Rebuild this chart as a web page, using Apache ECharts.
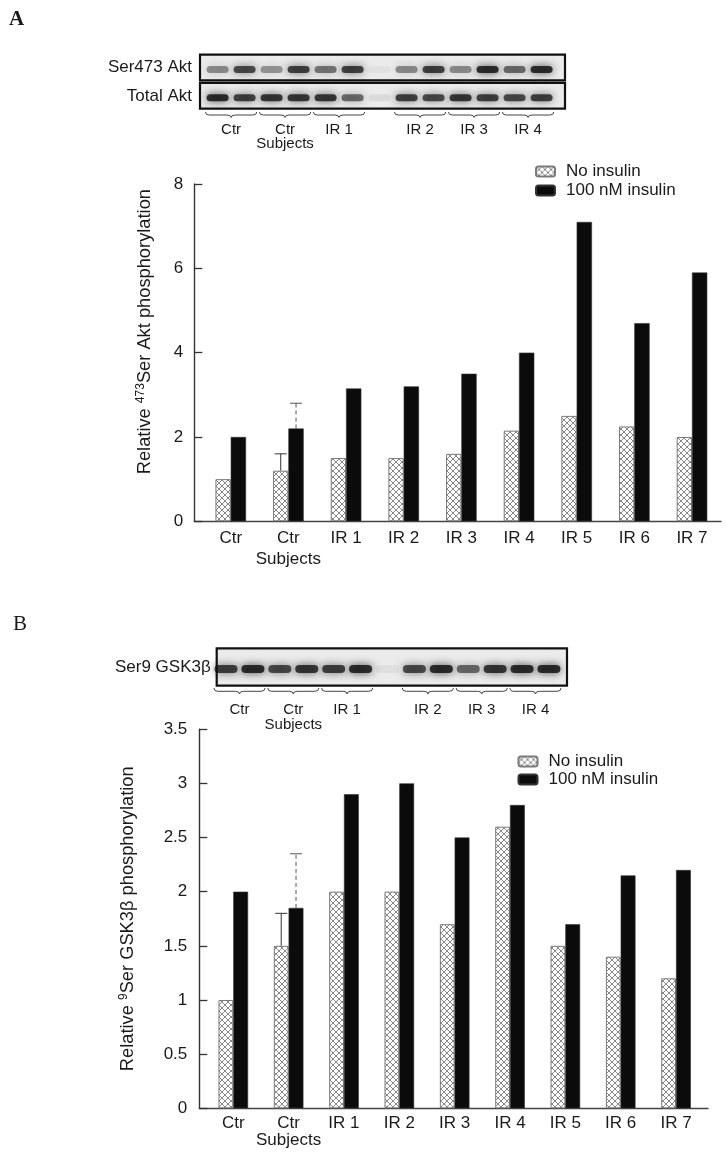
<!DOCTYPE html>
<html>
<head>
<meta charset="utf-8">
<script src="https://cdn.jsdelivr.net/npm/echarts@6/dist/echarts.min.js"></script>
<style>
html,body{margin:0;padding:0;background:#fff;}
#c{width:726px;height:1154px;}
</style>
</head>
<body>
<div id="c"></div>
<script>
// ---------- data ----------
const categories = ['Ctr', 'Ctr\nSubjects', 'IR 1', 'IR 2', 'IR 3', 'IR 4', 'IR 5', 'IR 6', 'IR 7'];
const seriesNames = ['No insulin', '100 nM insulin'];

const aktNoInsulin = [1.0, 1.2, 1.5, 1.5, 1.6, 2.15, 2.5, 2.25, 2.0];
const aktInsulin   = [2.0, 2.2, 3.15, 3.2, 3.5, 4.0, 7.1, 4.7, 5.9];
const aktErrors    = [[1, 0, 1.6], [1, 1, 2.8]];          // [category, series, top]
const aktTicks     = {min: 0, max: 8, step: 2};

const gskNoInsulin = [1.0, 1.5, 2.0, 2.0, 1.7, 2.6, 1.5, 1.4, 1.2];
const gskInsulin   = [2.0, 1.85, 2.9, 3.0, 2.5, 2.8, 1.7, 2.15, 2.2];
const gskErrors    = [[1, 0, 1.8], [1, 1, 2.35]];
const gskTicks     = {min: 0, max: 3.5, step: 0.5};

// western blot: lane band intensities (13 lanes, lane 6 empty)
const blotRowsA = ['Ser473 Akt', 'Total Akt'];
const aktPhosBands  = [0.45, 0.75, 0.40, 0.80, 0.55, 0.80, 0.05, 0.45, 0.80, 0.45, 0.90, 0.60, 0.90];
const aktTotalBands = [0.90, 0.80, 0.85, 0.85, 0.85, 0.60, 0.08, 0.80, 0.75, 0.85, 0.80, 0.75, 0.80];
const blotRowsB = ['Ser9 GSK3\u03b2'];
const gskPhosBands  = [0.80, 0.90, 0.75, 0.85, 0.80, 0.90, 0.06, 0.75, 0.90, 0.60, 0.85, 0.90, 0.90];
const blotGroupLabels = ['Ctr', 'Ctr\nSubjects', 'IR 1', 'IR 2', 'IR 3', 'IR 4'];
const blotGroupLanes  = [[0, 1], [2, 3], [4, 5], [7, 8], [9, 10], [11, 12]];

// ---------- styles ----------
const FONT = 'Liberation Sans, Arial, sans-serif';
const TXT = '#1a1a1a';

function hatchCanvas() {
  const c = document.createElement('canvas');
  c.width = 6; c.height = 6;
  const g = c.getContext('2d');
  g.fillStyle = '#ffffff'; g.fillRect(0, 0, 6, 6);
  g.strokeStyle = '#6a6a6a'; g.lineWidth = 0.8;
  g.beginPath();
  g.moveTo(0, 0); g.lineTo(6, 6);
  g.moveTo(6, 0); g.lineTo(0, 6);
  g.stroke();
  return c;
}
const hatch = {image: hatchCanvas(), repeat: 'repeat'};

const chart = echarts.init(document.getElementById('c'), null, {renderer: 'canvas'});

function bandData(arr, row) { return arr.map((v, i) => [i, row, v]); }

function errorSeries(name, xi, yi, errs, lowArrays, bw) {
  return {
    type: 'custom', name: name, xAxisIndex: xi, yAxisIndex: yi, z: 5,
    data: errs,
    encode: {x: 0, y: 2},
    renderItem: function (params, api) {
      const cat = api.value(0), si = api.value(1), top = api.value(2);
      const base = lowArrays[si][cat];
      const p0 = api.coord([cat, base]);
      const p1 = api.coord([cat, top]);
      const x = p0[0] + (si === 0 ? -bw / 2 : bw / 2);
      const st = si === 0
        ? {stroke: '#333', lineWidth: 1}
        : {stroke: '#555', lineWidth: 1, lineDash: [4, 3]};
      return {type: 'group', children: [
        {type: 'line', shape: {x1: x, y1: p0[1], x2: x, y2: p1[1]}, style: st},
        {type: 'line', shape: {x1: x - 6, y1: p1[1], x2: x + 6, y2: p1[1]}, style: {stroke: st.stroke, lineWidth: 1}}
      ]};
    }
  };
}

function boxSeries(xi, yi, rows) {
  return {
    type: 'custom', xAxisIndex: xi, yAxisIndex: yi, z: 1, silent: true,
    data: rows.map((r, i) => [0, i]),
    encode: {x: 0, y: 1},
    renderItem: function (params, api) {
      const cs = params.coordSys;
      const p = api.coord([0, api.value(1)]);
      const band = api.size([0, 1])[1];
      return {type: 'rect',
        shape: {x: cs.x, y: p[1] - band / 2 + 1.3, width: cs.width, height: band - 2.6},
        style: {fill: '#ebebeb', stroke: '#111', lineWidth: 2.2}};
    }
  };
}

function bandSeries(xi, yi, data, w, h, dy) {
  return {
    type: 'custom', xAxisIndex: xi, yAxisIndex: yi, z: 2, silent: true,
    data: data,
    encode: {x: 0, y: 1},
    renderItem: function (params, api) {
      const p = api.coord([api.value(0), api.value(1)]);
      const a = api.value(2);
      return {type: 'rect',
        shape: {x: p[0] - w / 2, y: p[1] - h / 2 + dy, width: w, height: h, r: h / 2},
        style: {fill: 'rgba(14,14,14,' + (a * 0.9) + ')', shadowBlur: 8, shadowColor: 'rgba(14,14,14,' + a + ')'}};
    }
  };
}

function braceSeries(xi, yi, braceTop, braceTip, labelTop, lineH) {
  return {
    type: 'custom', xAxisIndex: xi, yAxisIndex: yi, z: 3, silent: true,
    data: blotGroupLanes.map((g, i) => [g[0], g[1], 0, i]),
    encode: {x: [0, 1], y: 2},
    renderItem: function (params, api) {
      const cs = params.coordSys;
      const yb = cs.y + cs.height;
      const x0 = api.coord([api.value(0) - 0.45, 0])[0];
      const x1 = api.coord([api.value(1) + 0.45, 0])[0];
      const xc = (x0 + x1) / 2;
      const t = yb + braceTop, b = yb + braceTip, m = t + (b - t) * 0.55;
      const r = 4;
      const d = 'M' + x0 + ' ' + t + ' Q' + x0 + ' ' + m + ' ' + (x0 + r) + ' ' + m +
        ' L' + (xc - r) + ' ' + m + ' Q' + xc + ' ' + m + ' ' + xc + ' ' + b +
        ' Q' + xc + ' ' + m + ' ' + (xc + r) + ' ' + m +
        ' L' + (x1 - r) + ' ' + m + ' Q' + x1 + ' ' + m + ' ' + x1 + ' ' + t;
      return {type: 'group', children: [
        {type: 'path', shape: {pathData: d}, style: {fill: null, stroke: '#444', lineWidth: 1}},
        {type: 'text', style: {text: blotGroupLabels[api.value(3)], x: xc, y: yb + labelTop,
          align: 'center', verticalAlign: 'top', fontSize: 15, lineHeight: lineH, fontFamily: FONT, fill: TXT}}
      ]};
    }
  };
}

function valueAxisShown(gi, t, name, nameGap, namePad, labelMargin) {
  return {
    type: 'value', gridIndex: gi, min: t.min, max: t.max, interval: t.step,
    axisLine: {show: true, lineStyle: {color: '#333', width: 1.4}},
    axisTick: {show: true, inside: true, length: 8, lineStyle: {color: '#333', width: 1.3}},
    axisLabel: {fontSize: 17, color: TXT, fontFamily: FONT, margin: labelMargin},
    splitLine: {show: false},
    name: name, nameLocation: 'middle', nameRotate: 90, nameGap: nameGap,
    nameTextStyle: {padding: namePad, rich: {
      n: {fontSize: 18.3, color: TXT, fontFamily: FONT, lineHeight: 22},
      s: {fontSize: 12, color: TXT, fontFamily: FONT, lineHeight: 13, verticalAlign: 'top'}
    }}
  };
}
function lineOnlyX(gi) {
  return {type: 'value', gridIndex: gi, min: 0, max: 1,
    axisLine: {show: true, onZero: false, lineStyle: {color: '#444', width: 1.4}},
    axisTick: {show: false}, axisLabel: {show: false}, splitLine: {show: false}};
}
function catX(gi, lineH) {
  return {type: 'category', gridIndex: gi, data: categories, boundaryGap: true,
    axisLine: {show: false}, axisTick: {show: false},
    axisLabel: {fontSize: 17, color: TXT, fontFamily: FONT, margin: 7, lineHeight: lineH, interval: 0}};
}
function hiddenY(gi, t) { return {type: 'value', gridIndex: gi, min: t.min, max: t.max, show: false}; }
function blotX(gi, mn, mx) { return {type: 'value', gridIndex: gi, min: mn, max: mx, show: false}; }
function blotY(gi, rows, margin) {
  return {type: 'category', gridIndex: gi, data: rows, inverse: true,
    axisLine: {show: false}, axisTick: {show: false}, splitLine: {show: false},
    axisLabel: {fontSize: 17, color: TXT, fontFamily: FONT, margin: margin, padding: [4, 0, 0, 0]}};
}

const BW_A = 15.3, BW_B = 14.8;
const hatchStyle = {color: hatch, borderColor: '#7a7a7a', borderWidth: 1};
const blackStyle = {color: '#0b0b0b', borderColor: '#333', borderWidth: 0.6};

const option = {
  animation: false,
  backgroundColor: '#fff',
  title: [
    {text: 'A', left: 4, top: 4, textStyle: {fontFamily: 'Liberation Serif, DejaVu Serif, serif', fontWeight: 'bold', fontSize: 21, color: TXT}},
    {text: 'B', left: 8, top: 609, textStyle: {fontFamily: 'Liberation Serif, DejaVu Serif, serif', fontWeight: 'normal', fontSize: 21, color: TXT}}
  ],
  legend: [
    {left: 530, top: 158, orient: 'vertical', itemWidth: 19, itemHeight: 10, itemGap: 2, data: seriesNames,
      textStyle: {fontSize: 17, color: TXT, fontFamily: FONT, padding: [0, 0, 0, 6]}, selectedMode: false},
    {left: 512.5, top: 748, orient: 'vertical', itemWidth: 19, itemHeight: 10, itemGap: 1, data: seriesNames,
      textStyle: {fontSize: 17, color: TXT, fontFamily: FONT, padding: [0, 0, 0, 6]}, selectedMode: false}
  ],
  grid: [
    {left: 194.3, top: 184, width: 526.7, height: 337.3},
    {left: 201.9, top: 184, width: 518.9, height: 337.3},
    {left: 200, top: 53.3, width: 365, height: 56.7},
    {left: 199.3, top: 729.2, width: 508.7, height: 379.1},
    {left: 205.6, top: 729.2, width: 498.1, height: 379.1},
    {left: 216.7, top: 647, width: 350.3, height: 40}
  ],
  xAxis: [
    lineOnlyX(0), catX(1, 21), blotX(2, -0.652, 12.867),
    lineOnlyX(3), catX(4, 17), blotX(5, -0.346, 12.67)
  ],
  yAxis: [
    valueAxisShown(0, aktTicks, '{n|Relative }{s|473}{n|Ser Akt phosphorylation}', 38, [0, 0, 0, 42], 11),
    hiddenY(1, aktTicks),
    blotY(2, blotRowsA, 8),
    valueAxisShown(3, gskTicks, '{n|Relative }{s|9}{n|Ser GSK3\u03b2 phosphorylation}', 60, [0, 0, 0, 0], 12),
    hiddenY(4, gskTicks),
    blotY(5, blotRowsB, 6)
  ],
  series: [
    {type: 'bar', name: seriesNames[0], xAxisIndex: 1, yAxisIndex: 1, data: aktNoInsulin, barWidth: BW_A, barGap: '0%', itemStyle: hatchStyle},
    {type: 'bar', name: seriesNames[1], xAxisIndex: 1, yAxisIndex: 1, data: aktInsulin, barWidth: BW_A, barGap: '0%', itemStyle: blackStyle},
    errorSeries('errA', 1, 1, aktErrors, [aktNoInsulin, aktInsulin], BW_A),
    {type: 'bar', name: seriesNames[0], xAxisIndex: 4, yAxisIndex: 4, data: gskNoInsulin, barWidth: BW_B, barGap: '0%', itemStyle: hatchStyle},
    {type: 'bar', name: seriesNames[1], xAxisIndex: 4, yAxisIndex: 4, data: gskInsulin, barWidth: BW_B, barGap: '0%', itemStyle: blackStyle},
    errorSeries('errB', 4, 4, gskErrors, [gskNoInsulin, gskInsulin], BW_B),
    boxSeries(2, 2, blotRowsA),
    bandSeries(2, 2, bandData(aktPhosBands, 0).concat(bandData(aktTotalBands, 1)), 22, 7, 2),
    braceSeries(2, 2, 2, 7.5, 12.5, 14),
    boxSeries(5, 5, blotRowsB),
    bandSeries(5, 5, bandData(gskPhosBands, 0), 23, 8, 2),
    braceSeries(5, 5, 1, 7, 15.5, 15)
  ]
};
chart.setOption(option);
</script>
</body>
</html>
